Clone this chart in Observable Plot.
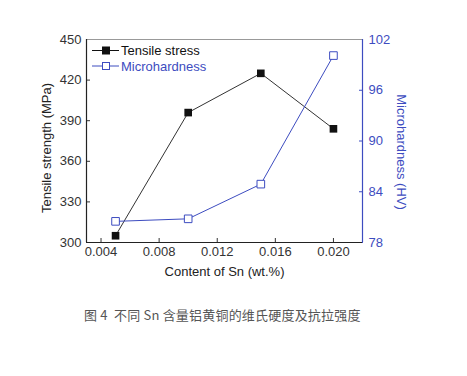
<!DOCTYPE html>
<html><head><meta charset="utf-8">
<script src="https://cdn.jsdelivr.net/npm/d3@7"></script>
<script src="https://cdn.jsdelivr.net/npm/@observablehq/plot@0.6"></script>
<style>
body{margin:0;background:#fff;font-family:"Liberation Sans",Arial,sans-serif;}
#wrap{position:relative;width:467px;height:376px;}
#caption{position:absolute;left:84px;top:306px;font-family:"Noto Sans CJK SC",sans-serif;font-size:13px;color:#555;white-space:pre;line-height:18px;letter-spacing:0.2px;}
</style></head><body>
<div id="wrap"><div id="chart"></div><div id="caption"></div></div>
<script>
const snContent = [0.005, 0.010, 0.015, 0.020];
const tensileStress = [305, 396, 425, 384];
const microhardness = [80.5, 80.8, 84.9, 100.1];
const xTicks = [0.004, 0.008, 0.012, 0.016, 0.020];
const leftTicks = [300, 330, 360, 390, 420, 450];
const rightTicks = [78, 84, 90, 96, 102];
const xDomain = [0.003, 0.022];
const leftDomain = [300, 450];
const rightDomain = [78, 102];
const seriesNames = ["Tensile stress", "Microhardness"];
const xTitle = "Content of Sn (wt.%)";
const leftTitle = "Tensile strength (MPa)";
const rightTitle = "Microhardness (HV)";
const captionText = "图 4  不同 Sn 含量铝黄铜的维氏硬度及抗拉强度";

const BLUE = "#3d4cc0";
const k = (leftDomain[1] - leftDomain[0]) / (rightDomain[1] - rightDomain[0]);
const toLeft = v => leftDomain[0] + (v - rightDomain[0]) * k;
const toRight = t => rightDomain[0] + (t - leftDomain[0]) / k;

const tensileData = snContent.map((x, i) => ({x, y: tensileStress[i]}));
const hardData = snContent.map((x, i) => ({x, y: toLeft(microhardness[i])}));

const plot = Plot.plot({
  width: 467,
  height: 290,
  marginLeft: 86,
  marginRight: 105,
  marginTop: 39,
  marginBottom: 48,
  style: {fontFamily: "Liberation Sans, Arial, sans-serif", fontSize: "13px", background: "#fff"},
  x: {domain: xDomain},
  y: {domain: leftDomain},
  marks: [
    Plot.axisX(xTicks, {tickSize: -4, tickPadding: 8, tickFormat: d3.format(".3f"), label: null, stroke: "#333", fill: "#333"}),
    Plot.axisY(leftTicks, {anchor: "left", tickSize: -4, tickPadding: 9, label: null, stroke: "#333", fill: "#333"}),
    Plot.axisY(rightTicks.map(toLeft), {anchor: "right", tickSize: -4, tickPadding: 10, label: null, color: BLUE, tickFormat: t => String(Math.round(toRight(t)))}),
    Plot.ruleY([leftDomain[1]], {stroke: "#999", strokeWidth: 1.2}),
    Plot.ruleY([leftDomain[0]], {stroke: "#222", strokeWidth: 1.2}),
    Plot.ruleX([xDomain[0]], {stroke: "#222", strokeWidth: 1.2}),
    Plot.ruleX([xDomain[1]], {stroke: BLUE, strokeWidth: 1.2}),
    Plot.line(tensileData, {x: "x", y: "y", stroke: "#333", strokeWidth: 1}),
    Plot.line(hardData, {x: "x", y: "y", stroke: BLUE, strokeWidth: 1}),
    Plot.dot(tensileData, {x: "x", y: "y", symbol: "square", r: 4.3, fill: "#111", stroke: "none"}),
    Plot.dot(hardData, {x: "x", y: "y", symbol: "square", r: 4.3, fill: "white", stroke: BLUE, strokeWidth: 1}),
    Plot.text([leftTitle], {frameAnchor: "left", textAnchor: "middle", rotate: -90, dx: -40, dy: 7, fill: "#222", fontSize: 13}),
    Plot.text([rightTitle], {frameAnchor: "right", textAnchor: "middle", rotate: 90, dx: 39, dy: 11, fill: BLUE, fontSize: 13}),
    Plot.text([xTitle], {frameAnchor: "bottom", textAnchor: "middle", dy: 33, fill: "#222", fontSize: 13})
  ]
});
document.getElementById("chart").appendChild(plot);

// legend inside the frame, top-left
const svg = d3.select(plot);
const lg = svg.append("g").attr("font-family", "Liberation Sans, Arial, sans-serif").attr("font-size", 13).attr("text-anchor", "start");
const rows = [
  {name: seriesNames[0], color: "#111", textColor: "#111", fill: "#111"},
  {name: seriesNames[1], color: BLUE, textColor: BLUE, fill: "white"}
];
rows.forEach((r, i) => {
  const cy = 50.5 + i * 15.5;
  lg.append("line").attr("x1", 92).attr("x2", 119).attr("y1", cy).attr("y2", cy).attr("stroke", r.color).attr("stroke-width", 1);
  lg.append("rect").attr("x", 102.5).attr("y", cy - 3.5).attr("width", 7).attr("height", 7)
    .attr("fill", r.fill).attr("stroke", r.color).attr("stroke-width", 1);
  lg.append("text").attr("x", 121).attr("y", cy).attr("dy", "0.35em").attr("text-anchor", "start").attr("fill", r.textColor).text(r.name);
});

document.getElementById("caption").textContent = captionText;
</script>
</body></html>
